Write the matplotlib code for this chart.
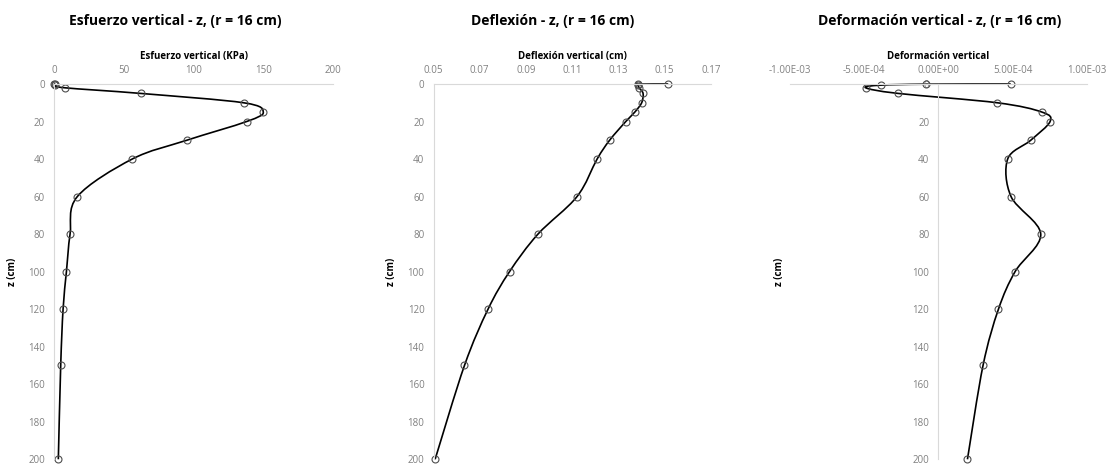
import numpy as np
import matplotlib.pyplot as plt
from matplotlib.path import Path
from matplotlib.patches import PathPatch
from matplotlib.ticker import FormatStrFormatter

plt.rcParams['font.family'] = ['Open Sans', 'DejaVu Sans']

# profundidades (cm)
z = [0, 0.1, 0.6, 2, 5, 10, 15, 20, 30, 40, 60, 80, 100, 120, 150, 200]

esfuerzo = [0, 0.5, 1, 7.7, 62, 136, 150, 138, 95, 56, 16.7, 11.5, 8.9, 6.5, 4.8, 3.1]
deflexion = [0.1516, 0.1386, 0.1386, 0.139, 0.1407, 0.1401, 0.1371, 0.1332, 0.1262,
             0.1208, 0.1121, 0.0952, 0.0829, 0.0736, 0.0634, 0.0507]
deformacion = [4.88e-4, -0.83e-4, -3.88e-4, -4.9e-4, -2.72e-4, 3.98e-4, 7.0e-4, 7.53e-4,
               6.22e-4, 4.67e-4, 4.9e-4, 6.9e-4, 5.17e-4, 4.05e-4, 3.01e-4, 1.96e-4]

gray = '#808080'
axis_gray = '#d9d9d9'


def smooth_path(x, y):
    # curva suavizada tipo Excel (Catmull-Rom como Bezier cubica)
    p = np.column_stack([x, y]).astype(float)
    p = np.vstack([p[0], p, p[-1]])
    verts = [p[1]]
    codes = [Path.MOVETO]
    for i in range(1, len(p) - 2):
        c1 = p[i] + (p[i + 1] - p[i - 1]) / 6
        c2 = p[i + 1] - (p[i + 2] - p[i]) / 6
        verts += [c1, c2, p[i + 1]]
        codes += [Path.CURVE4] * 3
    return Path(verts, codes)


fig = plt.figure(figsize=(11.09, 4.65), dpi=100)

panels = [
    dict(pos=[0.0487, 0.0123, 0.2516, 0.807], x=esfuerzo, xlim=(0, 200), ticks=np.arange(0, 201, 50),
         fmt='%d', xlabel='Esfuerzo vertical (KPa)', title='Esfuerzo vertical - z, (r = 16 cm)',
         tx=0.158, ylx=-0.129, center=False),
    dict(pos=[0.3909, 0.0123, 0.25, 0.807], x=deflexion, xlim=(0.05, 0.17),
         ticks=np.arange(0.05, 0.171, 0.02), fmt='%.2f', xlabel='Deflexión vertical (cm)',
         title='Deflexión - z, (r = 16 cm)', tx=0.4987, ylx=-0.132, center=False),
    dict(pos=[0.7124, 0.0123, 0.2675, 0.807], x=deformacion, xlim=(-1e-3, 1e-3),
         ticks=np.arange(-1e-3, 1.01e-3, 5e-4), fmt='%.2E', xlabel='Deformación vertical',
         title='Deformación vertical - z, (r = 16 cm)', tx=0.847, ylx=-0.017, center=True),
]

for pn in panels:
    ax = fig.add_axes(pn['pos'])
    ax.add_patch(PathPatch(smooth_path(pn['x'], z), facecolor='none', edgecolor='black',
                           lw=1.2, clip_on=False))
    ax.plot(pn['x'], z, linestyle='none', marker='o', markersize=5, markerfacecolor='none',
            markeredgecolor='#4d4d4d', markeredgewidth=0.8, clip_on=False)
    ax.set_xlim(pn['xlim'])
    ax.set_ylim(200, 0)
    ax.set_xticks(pn['ticks'])
    ax.set_yticks(np.arange(0, 201, 20))
    ax.xaxis.set_major_formatter(FormatStrFormatter(pn['fmt']))
    ax.xaxis.tick_top()
    ax.xaxis.set_label_position('top')
    for s in ['bottom', 'right']:
        ax.spines[s].set_visible(False)
    ax.spines['top'].set_color(axis_gray)
    ax.spines['left'].set_color(axis_gray)
    if pn['center']:
        ax.spines['left'].set_position(('data', 0))
    ax.tick_params(length=0, labelsize=7, labelcolor=gray)
    ax.tick_params(axis='y', pad=6.5)
    ax.tick_params(axis='x', pad=6)
    ax.set_xlabel(pn['xlabel'], fontsize=7, fontweight='bold', labelpad=4)
    ax.set_ylabel('z (cm)', fontsize=7, fontweight='bold')
    ax.yaxis.set_label_coords(pn['ylx'], 0.5)
    ax.set_facecolor('none')
    fig.text(pn['tx'], 0.955, pn['title'], ha='center', va='center', fontsize=10, fontweight='bold')

fig.savefig('out.png', dpi=100)
